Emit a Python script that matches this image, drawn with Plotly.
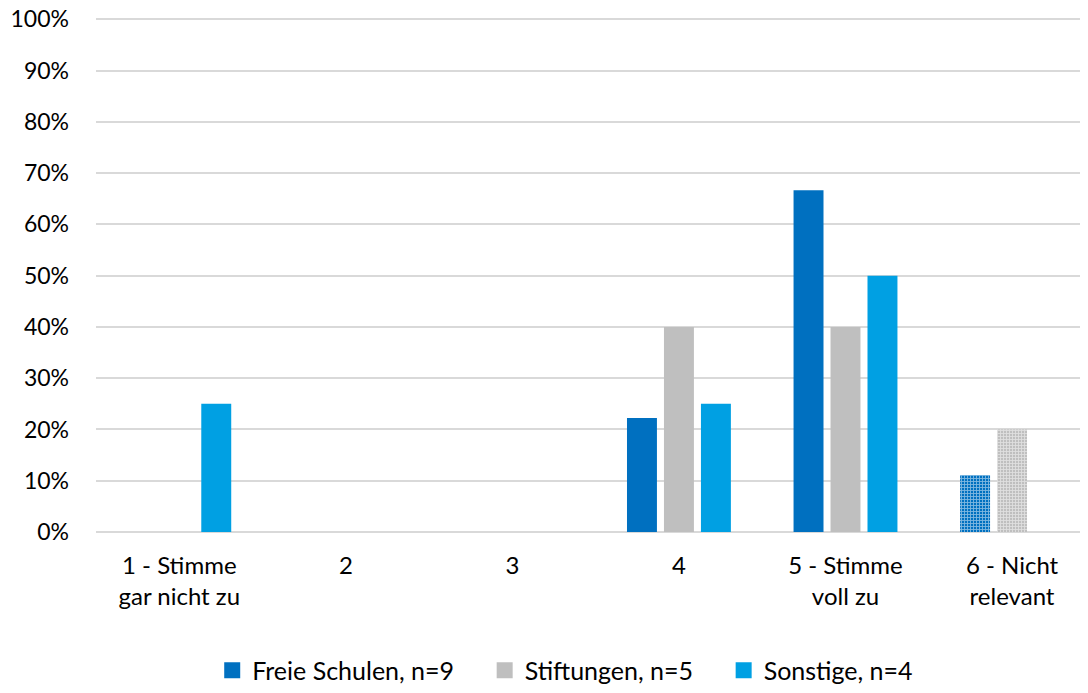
import plotly.graph_objects as go

categories = ["1 - Stimme<br>gar nicht zu", "2", "3", "4", "5 - Stimme<br>voll zu", "6 - Nicht<br>relevant"]
freie_schulen = [0, 0, 0, 0.2222, 0.6667, 0.1111]
stiftungen = [0, 0, 0, 0.40, 0.40, 0.20]
sonstige = [0.25, 0, 0, 0.25, 0.50, 0]
y_ticks = [i / 10 for i in range(11)]

series = [
    ("Freie Schulen, n=9", freie_schulen, "#0070C0"),
    ("Stiftungen, n=5", stiftungen, "#BFBFBF"),
    ("Sonstige, n=4", sonstige, "#00A0E3"),
]

fig = go.Figure()
for name, vals, col in series:
    # last category ("Nicht relevant") is drawn with a checker pattern
    shapes = [""] * (len(categories) - 1) + ["+"]
    fig.add_trace(go.Bar(
        x=list(range(len(categories))), y=vals, name=name, showlegend=False,
        marker=dict(color=col, line=dict(width=0),
                    pattern=dict(shape=shapes, size=3, solidity=0.5,
                                 fgcolor="white", fillmode="overlay")),
    ))
# legend entries with square swatches (trailing nbsp for spacing)
pad = "\u00a0" * 4
for i, (name, vals, col) in enumerate(series):
    label = name + (pad if i < len(series) - 1 else "")
    fig.add_trace(go.Scatter(x=[None], y=[None], name=label, mode="markers",
                             marker=dict(symbol="square", size=16, color=col)))

fig.update_layout(
    barmode="group", bargap=0.334, bargroupgap=0.19,
    width=1080, height=685,
    margin=dict(l=88, r=0, t=1, b=161, autoexpand=False),
    plot_bgcolor="white", paper_bgcolor="white",
    font=dict(family="Lato, Calibri, sans-serif", size=23, color="#000000"),
    legend=dict(orientation="h", x=0.473, xanchor="center", y=-0.265, yanchor="middle",
                font=dict(size=25), itemwidth=30, traceorder="normal"),
)
fig.update_xaxes(tickmode="array", tickvals=list(range(len(categories))), ticktext=categories,
                 range=[-0.5, 5.456], showgrid=False, showline=False, zeroline=False,
                 ticks="", ticklabelstandoff=17, tickfont=dict(size=24), automargin=False)
fig.update_yaxes(range=[0, 1.02], tickvals=y_ticks, tickformat=".0%", gridcolor="#D9D9D9", gridwidth=2,
                 zeroline=True, zerolinecolor="#D9D9D9", zerolinewidth=2, automargin=False,
                 showline=False, ticks="", ticklabelstandoff=26, ticklabeloverflow="allow")

fig.write_html("out.html")
